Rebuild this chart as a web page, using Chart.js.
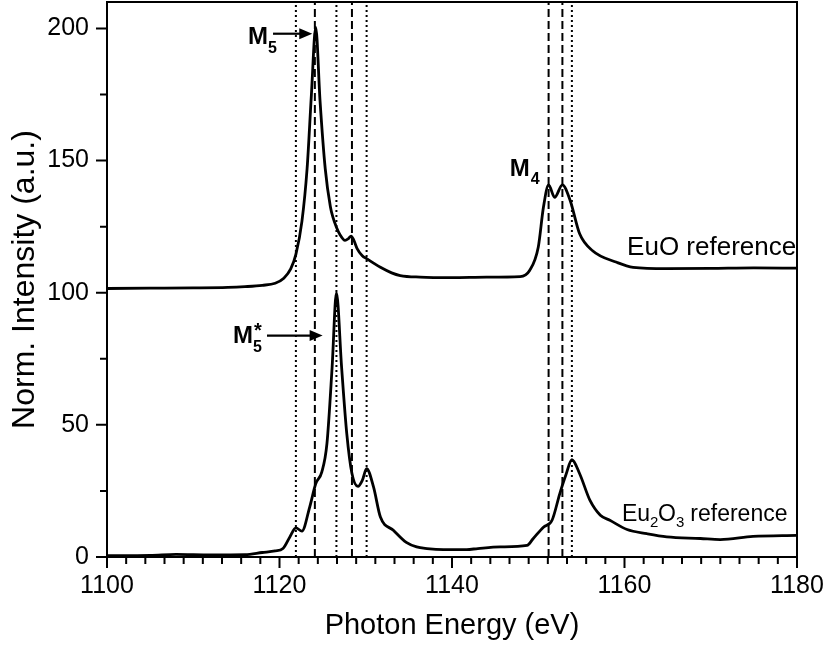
<!DOCTYPE html>
<html>
<head>
<meta charset="utf-8">
<script src="https://cdn.jsdelivr.net/npm/chart.js@4.4.1/dist/chart.umd.min.js"></script>
<style>
  html, body { margin: 0; padding: 0; background: #fff; }
  #wrap { width: 831px; height: 646px; }
</style>
</head>
<body>
<div id="wrap"><canvas id="xasChart" width="831" height="646"></canvas></div>
<script>
// EuO reference spectrum (offset by +100)
const euoEnergy = [1100, 1105, 1110, 1114, 1116, 1118, 1119.5, 1120.5, 1121.3, 1121.9, 1122.6, 1123.2, 1123.7, 1124.2,
  1124.7, 1125.3, 1125.9, 1126.2, 1126.6, 1127.0, 1127.6, 1128.0, 1128.3, 1128.6, 1129.0, 1129.6, 1130.1, 1131.0,
  1131.7, 1133.0, 1134.0, 1136.3, 1140, 1144, 1147.9, 1149.0, 1150.0, 1150.6, 1151.2, 1151.9, 1152.8, 1153.7,
  1154.8, 1156.3, 1159.1, 1161.0, 1164.9, 1170, 1175, 1180];
const euoIntensity = [101.6, 101.7, 101.8, 102.0, 102.3, 102.8, 103.6, 105.5, 109, 114.5, 127, 147, 175, 200.5,
  172.6, 147, 132.5, 128.5, 124.8, 122, 119.8, 120.5, 121.4, 120, 116.7, 114, 112.9, 111,
  109.6, 107.5, 106.5, 105.9, 105.7, 105.9, 106.1, 108.4, 117.2, 132.3, 140.8, 136.1, 140.8, 134.9,
  122.3, 115.9, 111.5, 109.6, 109.1, 109.2, 109.4, 109.3];

// Eu2O3 reference spectrum
const eu2o3Energy = [1100, 1105, 1108, 1112, 1116, 1118, 1119.5, 1120.4, 1121.2, 1121.9, 1122.6, 1123.5, 1124.2,
  1124.9, 1125.5, 1126.1, 1126.6, 1127.2, 1127.8, 1128.4, 1129.1, 1129.6, 1130.1, 1130.9, 1131.7, 1133.2,
  1134.7, 1135.9, 1137.1, 1139, 1141.7, 1143, 1145.6, 1148.7, 1149.4, 1150.6, 1151.6, 1152.5, 1153.2, 1153.9,
  1154.8, 1156, 1157.2, 1158.3, 1160.3, 1162.6, 1164.9, 1168.8, 1171.1, 1174.9, 1180];
const eu2o3Intensity = [0.5, 0.6, 1.0, 0.8, 0.9, 1.7, 2.3, 3.2, 7.6, 11, 9.8, 18.9, 27.7,
  32.1, 42.9, 71.8, 100, 71.8, 46.7, 31.6, 26.7, 29, 33.4, 26.5, 15.1, 10.1,
  5.5, 3.8, 3.2, 2.8, 2.8, 3.2, 3.8, 4.4, 6.9, 11.3, 13.9, 24, 31, 36.8,
  31.5, 21.4, 15.8, 13.9, 10.4, 8.8, 7.6, 7, 6.6, 7.8, 8.2];

// vertical guide lines (eV)
const dottedLines = [1121.9, 1126.6, 1130.1, 1153.9];
const dashedLines = [1124.1, 1128.4, 1151.2, 1152.8];

// axes
const xTicks = [1100, 1120, 1140, 1160, 1180];
const yTicks = [0, 50, 100, 150, 200];
const xRange = [1100, 1180];
const yRange = [0, 210];

const toPoints = (xs, ys) => xs.map((x, i) => ({ x, y: ys[i] }));

const guideDataset = (e, dash) => ({
  data: [{ x: e, y: yRange[0] }, { x: e, y: yRange[1] }],
  borderColor: '#000',
  borderWidth: 2,
  borderDash: dash,
  pointRadius: 0,
  showLine: true
});

const spectrumDataset = (xs, ys) => ({
  data: toPoints(xs, ys),
  borderColor: '#000',
  borderWidth: 2.8,
  pointRadius: 0,
  showLine: true,
  cubicInterpolationMode: 'monotone'
});

const FONT = '"Liberation Sans", Arial, sans-serif';

const noPadding = (scale) => {
  scale.paddingTop = 0;
  scale.paddingBottom = 0;
  scale.paddingLeft = 0;
  scale.paddingRight = 0;
};

// frame, minor ticks and text labels
const decorPlugin = {
  id: 'decor',
  afterDraw(chart) {
    const { ctx, chartArea: a, scales: { x, y } } = chart;
    ctx.save();
    ctx.strokeStyle = '#000';
    ctx.lineWidth = 2;
    ctx.strokeRect(a.left, a.top, a.right - a.left, a.bottom - a.top);

    ctx.beginPath();
    for (let i = 0; i < xTicks.length; i++) {
      const px = x.getPixelForValue(xTicks[i]);
      ctx.moveTo(px, a.bottom); ctx.lineTo(px, a.bottom + 11);
      if (i < xTicks.length - 1) {
        const step = (xTicks[i + 1] - xTicks[i]) / 9;
        for (let k = 1; k < 9; k++) {
          const mx = x.getPixelForValue(xTicks[i] + k * step);
          ctx.moveTo(mx, a.bottom); ctx.lineTo(mx, a.bottom + 7);
        }
      }
    }
    for (let i = 0; i < yTicks.length; i++) {
      const py = y.getPixelForValue(yTicks[i]);
      ctx.moveTo(a.left, py); ctx.lineTo(a.left - 11, py);
      const mid = y.getPixelForValue(yTicks[i] + 25);
      ctx.moveTo(a.left, mid); ctx.lineTo(a.left - 7, mid);
    }
    ctx.stroke();

    // arrows
    const arrow = (x0, x1, yv) => {
      const sx = x.getPixelForValue(x0), ex = x.getPixelForValue(x1), py = y.getPixelForValue(yv);
      ctx.beginPath();
      ctx.lineWidth = 2.2;
      ctx.moveTo(sx, py); ctx.lineTo(ex - 8, py);
      ctx.stroke();
      ctx.beginPath();
      ctx.moveTo(ex, py); ctx.lineTo(ex - 13, py - 5.5); ctx.lineTo(ex - 13, py + 5.5);
      ctx.closePath();
      ctx.fill();
    };
    arrow(1119.25, 1123.8, 198);
    arrow(1118.55, 1125.0, 83.8);

    ctx.fillStyle = '#000';
    ctx.textBaseline = 'alphabetic';
    const text = (str, xv, yv, size, dx = 0, dy = 0, weight = 'normal') => {
      ctx.font = `${weight} ${size}px ${FONT}`;
      ctx.fillText(str, x.getPixelForValue(xv) + dx, y.getPixelForValue(yv) + dy);
      return ctx.measureText(str).width;
    };
    let w = text('M', 1116.35, 194.2, 24, 0, 0, 'bold');
    text('5', 1116.35, 194.2, 16, w, 9, 'bold');
    w = text('M', 1146.7, 144.3, 24, 0, 0, 'bold');
    text('4', 1146.7, 144.3, 16, w + 1, 8, 'bold');
    w = text('M', 1114.6, 80.8, 24, 0, 0, 'bold');
    text('5', 1114.6, 80.8, 16, w, 9, 'bold');
    text('*', 1114.6, 80.8, 20, w + 1, -6, 'bold');

    text('EuO reference', 1160.3, 114.1, 26);
    w = text('Eu', 1159.7, 13.5, 23);
    text('2', 1159.7, 13.5, 15, w, 6);
    const w2 = text('O', 1159.7, 13.5, 23, w + 8);
    text('3', 1159.7, 13.5, 15, w + 8 + w2, 6);
    text(' reference', 1159.7, 13.5, 23, w + 8 + w2 + 8);
    ctx.restore();
  }
};

const datasets = [
  ...dottedLines.map(e => guideDataset(e, [2, 3])),
  ...dashedLines.map(e => guideDataset(e, [8, 4])),
  spectrumDataset(euoEnergy, euoIntensity),
  spectrumDataset(eu2o3Energy, eu2o3Intensity)
];

new Chart(document.getElementById('xasChart'), {
  type: 'scatter',
  data: { datasets },
  plugins: [decorPlugin],
  options: {
    responsive: false,
    animation: false,
    layout: { padding: { top: 2, right: 34, left: 0, bottom: 0 } },
    plugins: { legend: { display: false }, tooltip: { enabled: false } },
    scales: {
      x: {
        type: 'linear',
        min: xRange[0],
        max: xRange[1],
        afterBuildTicks: (scale) => { scale.ticks = xTicks.map(v => ({ value: v })); },
        afterFit: (scale) => { scale.height = 89; noPadding(scale); },
        grid: { display: false, drawTicks: false },
        border: { display: false },
        ticks: { color: '#000', font: { family: FONT, size: 25 }, padding: 14, maxRotation: 0, callback: v => String(v) },
        title: { display: true, text: 'Photon Energy (eV)', color: '#000', font: { family: FONT, size: 29 }, padding: { top: 0, bottom: 3 } }
      },
      y: {
        type: 'linear',
        min: yRange[0],
        max: yRange[1],
        afterBuildTicks: (scale) => { scale.ticks = yTicks.map(v => ({ value: v })); },
        afterFit: (scale) => { scale.width = 107; noPadding(scale); },
        grid: { display: false, drawTicks: false },
        border: { display: false },
        ticks: { color: '#000', font: { family: FONT, size: 25 }, padding: 18, callback: v => String(v) },
        title: { display: true, text: 'Norm. Intensity (a.u.)', color: '#000', font: { family: FONT, size: 32 }, padding: { top: 6 } }
      }
    }
  }
});
</script>
</body>
</html>
